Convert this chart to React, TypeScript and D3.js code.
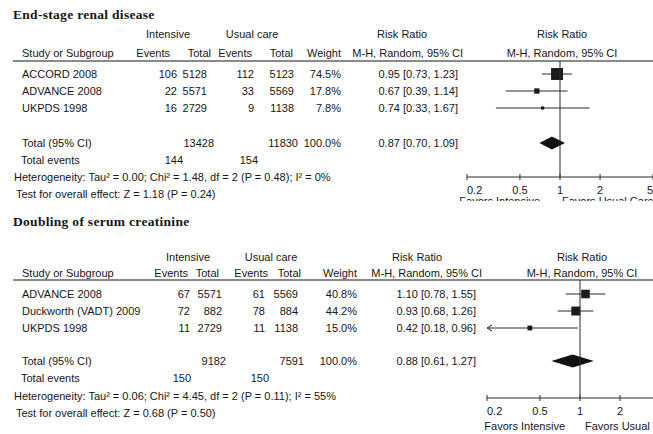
import React from "react";
import * as d3 from "d3";

const W = 653;
const H = 434;

// ---- End-stage renal disease ----
const esrdStudies = ["ACCORD 2008", "ADVANCE 2008", "UKPDS 1998"];
const esrdIntEvents = [106, 22, 16];
const esrdIntTotal = [5128, 5571, 2729];
const esrdUcEvents = [112, 33, 9];
const esrdUcTotal = [5123, 5569, 1138];
const esrdWeight = [74.5, 17.8, 7.8];
const esrdRR = [0.95, 0.67, 0.74];
const esrdLo = [0.73, 0.39, 0.33];
const esrdHi = [1.23, 1.14, 1.67];
const esrdPooled = [0.87, 0.7, 1.09];
const esrdTotals = [13428, 11830];
const esrdTotalEvents = [144, 154];
const esrdHet = "Heterogeneity: Tau\u00B2 = 0.00; Chi\u00B2 = 1.48, df = 2 (P = 0.48); I\u00B2 = 0%";
const esrdTest = "Test for overall effect: Z = 1.18 (P = 0.24)";

// ---- Doubling of serum creatinine ----
const dscStudies = ["ADVANCE 2008", "Duckworth (VADT) 2009", "UKPDS 1998"];
const dscIntEvents = [67, 72, 11];
const dscIntTotal = [5571, 882, 2729];
const dscUcEvents = [61, 78, 11];
const dscUcTotal = [5569, 884, 1138];
const dscWeight = [40.8, 44.2, 15.0];
const dscRR = [1.1, 0.93, 0.42];
const dscLo = [0.78, 0.68, 0.18];
const dscHi = [1.55, 1.26, 0.96];
const dscPooled = [0.88, 0.61, 1.27];
const dscTotals = [9182, 7591];
const dscTotalEvents = [150, 150];
const dscHet = "Heterogeneity: Tau\u00B2 = 0.06; Chi\u00B2 = 4.45, df = 2 (P = 0.11); I\u00B2 = 55%";
const dscTest = "Test for overall effect: Z = 0.68 (P = 0.50)";

const axisTicks = [0.2, 0.5, 1, 2, 5];
const axisTickLabels = ["0.2", "0.5", "1", "2", "5"];

const SANS = "'Liberation Sans', Arial, sans-serif";
const SERIF = "'Liberation Serif', 'Times New Roman', serif";
const INK = "#161616";

type Cols = {
  intEv: number;
  intTot: number;
  ucEv: number;
  ucTot: number;
  weight: number;
  rr: number;
  intHdr: number;
  ucHdr: number;
  hEv1: number;
  hTot1: number;
  hEv2: number;
  hTot2: number;
  rrHdr: number;
  rrSub: number;
  fHdr: number;
  tot1: number;
  tot2: number;
  ev1: number;
  ev2: number;
};

type PanelProps = {
  id: string;
  title: string;
  titleY: number;
  h1Y: number;
  h2Y: number;
  lineY: number;
  rowY: number[];
  totalY: number;
  eventsY: number;
  hetY: number;
  testY: number;
  axisY: number;
  tickY: number;
  favorsY: number;
  favorsGapL: number;
  favorsGapR: number;
  clipBottom?: number;
  range: [number, number];
  cols: Cols;
  studies: string[];
  intEvents: number[];
  intTotal: number[];
  ucEvents: number[];
  ucTotal: number[];
  weight: number[];
  rr: number[];
  lo: number[];
  hi: number[];
  pooled: number[];
  totals: number[];
  totalEvents: number[];
  het: string;
  test: string;
};

const fmtRR = (m: number, l: number, h: number) =>
  `${m.toFixed(2)} [${l.toFixed(2)}, ${h.toFixed(2)}]`;

function Panel(p: PanelProps) {
  // log-scaled risk-ratio axis running from 0.2 to 5
  const x = d3.scaleLog().domain([0.2, 5]).range(p.range);
  const c = p.cols;
  const fs = 11;
  const txt = (s: string | number, xx: number, yy: number, anchor = "start") => (
    <text x={xx} y={yy} textAnchor={anchor} fontFamily={SANS} fontSize={fs} fill={INK}>
      {s}
    </text>
  );
  // square area grows with study weight
  const boxSize = (w: number) => Math.max(3, 1.5 * Math.sqrt(w) - 1);
  const [pm, pl, ph] = p.pooled;
  const dh = 6.5;
  const cy = p.totalY - 4;
  const diamond = `M${x(pl)},${cy} L${x(pm)},${cy - dh} L${x(ph)},${cy} L${x(pm)},${cy + dh} Z`;
  const x1 = x(1);
  const lineCol = "#2a2a2a";
  const visibleTicks = axisTicks
    .map((t, i) => ({ t, label: axisTickLabels[i], i }))
    .filter((d) => x(d.t) <= W + 0.5);

  return (
    <g>
      <text
        x={13}
        y={p.titleY}
        fontFamily={SERIF}
        fontWeight="bold"
        fontSize={13.5}
        letterSpacing={0.3}
        fill={INK}
      >
        {p.title}
      </text>

      {/* column headers */}
      {txt("Intensive", c.intHdr, p.h1Y, "middle")}
      {txt("Usual care", c.ucHdr, p.h1Y, "middle")}
      {txt("Risk Ratio", c.rrHdr, p.h1Y, "middle")}
      {txt("Risk Ratio", c.fHdr, p.h1Y, "middle")}
      {txt("Study or Subgroup", 22, p.h2Y)}
      {txt("Events", c.hEv1, p.h2Y, "end")}
      {txt("Total", c.hTot1, p.h2Y, "end")}
      {txt("Events", c.hEv2, p.h2Y, "end")}
      {txt("Total", c.hTot2, p.h2Y, "end")}
      {txt("Weight", c.weight, p.h2Y, "end")}
      {txt("M-H, Random, 95% CI", c.rrSub, p.h2Y, "end")}
      {txt("M-H, Random, 95% CI", c.fHdr, p.h2Y, "middle")}
      <line x1={13} x2={W} y1={p.lineY} y2={p.lineY} stroke={INK} strokeWidth={1.2} />

      {/* study rows */}
      {p.studies.map((s, i) => {
        const y = p.rowY[i];
        const cyR = y - 4;
        const lo = Math.max(p.lo[i], 0.2);
        const bs = boxSize(p.weight[i]);
        const clipped = p.lo[i] < 0.2;
        return (
          <g key={s}>
            {txt(s, 22, y)}
            {txt(p.intEvents[i], c.intEv, y, "end")}
            {txt(p.intTotal[i], c.intTot, y, "end")}
            {txt(p.ucEvents[i], c.ucEv, y, "end")}
            {txt(p.ucTotal[i], c.ucTot, y, "end")}
            {txt(`${p.weight[i].toFixed(1)}%`, c.weight, y, "end")}
            {txt(fmtRR(p.rr[i], p.lo[i], p.hi[i]), c.rr, y, "end")}
            <line x1={x(lo)} x2={x(p.hi[i])} y1={cyR} y2={cyR} stroke={lineCol} strokeWidth={1} />
            {clipped && (
              <path
                d={`M${x(0.2) + 5},${cyR - 3} L${x(0.2)},${cyR} L${x(0.2) + 5},${cyR + 3}`}
                fill="none"
                stroke={lineCol}
                strokeWidth={1}
              />
            )}
            <rect x={x(p.rr[i]) - bs / 2} y={cyR - bs / 2} width={bs} height={bs} fill="#1a1a1a" />
          </g>
        );
      })}

      {/* pooled estimate */}
      {txt("Total (95% CI)", 22, p.totalY)}
      {txt(p.totals[0], c.tot1, p.totalY, "end")}
      {txt(p.totals[1], c.tot2, p.totalY, "end")}
      {txt("100.0%", c.weight, p.totalY, "end")}
      {txt(fmtRR(pm, pl, ph), c.rr, p.totalY, "end")}
      <path d={diamond} fill="#111" />
      {txt("Total events", 21, p.eventsY)}
      {txt(p.totalEvents[0], c.ev1, p.eventsY, "end")}
      {txt(p.totalEvents[1], c.ev2, p.eventsY, "end")}
      {txt(p.het, 14, p.hetY)}
      {txt(p.test, 16, p.testY)}

      {/* line of no effect and axis */}
      <line x1={x1} x2={x1} y1={p.lineY} y2={p.axisY} stroke={lineCol} strokeWidth={1} />
      <line x1={x(0.2)} x2={x(5)} y1={p.axisY} y2={p.axisY} stroke={lineCol} strokeWidth={1} />
      {visibleTicks.map(({ t, label, i }) => (
        <g key={t}>
          <line x1={x(t)} x2={x(t)} y1={p.axisY - 3} y2={p.axisY + 3} stroke={lineCol} strokeWidth={1} />
          {txt(label, x(t), p.tickY, i === 0 ? "start" : i === axisTicks.length - 1 ? "end" : "middle")}
        </g>
      ))}
      {p.clipBottom && (
        <clipPath id={`clip-${p.id}`}>
          <rect x={0} y={0} width={W} height={p.clipBottom} />
        </clipPath>
      )}
      <g clipPath={p.clipBottom ? `url(#clip-${p.id})` : undefined}>
        {txt("Favors Intensive", x1 - p.favorsGapL, p.favorsY, "end")}
        {txt("Favors Usual Care", x1 + p.favorsGapR, p.favorsY, "start")}
      </g>
    </g>
  );
}

export default function App() {
  return (
    <svg
      width={W}
      height={H}
      viewBox={`0 0 ${W} ${H}`}
      style={{ position: "absolute", left: 0, top: 0, background: "#fff" }}
    >
      <rect width={W} height={H} fill="#fff" />
      <Panel
        id="esrd"
        title="End-stage renal disease"
        titleY={19}
        h1Y={38}
        h2Y={57}
        lineY={61}
        rowY={[78, 95, 112]}
        totalY={147}
        eventsY={164}
        hetY={181}
        testY={198}
        axisY={177}
        tickY={194}
        favorsY={205}
        favorsGapL={20}
        favorsGapR={2}
        clipBottom={201}
        range={[467, 653]}
        cols={{
          intEv: 177,
          intTot: 207,
          ucEv: 254,
          ucTot: 294,
          weight: 341,
          rr: 458,
          intHdr: 168,
          ucHdr: 252,
          hEv1: 170,
          hTot1: 211,
          hEv2: 252,
          hTot2: 293,
          rrHdr: 402,
          rrSub: 463,
          fHdr: 562,
          tot1: 214,
          tot2: 298,
          ev1: 183,
          ev2: 258,
        }}
        studies={esrdStudies}
        intEvents={esrdIntEvents}
        intTotal={esrdIntTotal}
        ucEvents={esrdUcEvents}
        ucTotal={esrdUcTotal}
        weight={esrdWeight}
        rr={esrdRR}
        lo={esrdLo}
        hi={esrdHi}
        pooled={esrdPooled}
        totals={esrdTotals}
        totalEvents={esrdTotalEvents}
        het={esrdHet}
        test={esrdTest}
      />
      <Panel
        id="dsc"
        title="Doubling of serum creatinine"
        titleY={226}
        h1Y={261}
        h2Y={277}
        lineY={280}
        rowY={[298, 315, 332]}
        totalY={365}
        eventsY={382}
        hetY={400}
        testY={417}
        axisY={398}
        tickY={415}
        favorsY={430}
        favorsGapL={15}
        favorsGapR={5}
        range={[487, 673]}
        cols={{
          intEv: 190,
          intTot: 222,
          ucEv: 265,
          ucTot: 298,
          weight: 357,
          rr: 476,
          intHdr: 188,
          ucHdr: 271,
          hEv1: 188,
          hTot1: 219,
          hEv2: 268,
          hTot2: 301,
          rrHdr: 417,
          rrSub: 482,
          fHdr: 582,
          tot1: 226,
          tot2: 304,
          ev1: 191,
          ev2: 269,
        }}
        studies={dscStudies}
        intEvents={dscIntEvents}
        intTotal={dscIntTotal}
        ucEvents={dscUcEvents}
        ucTotal={dscUcTotal}
        weight={dscWeight}
        rr={dscRR}
        lo={dscLo}
        hi={dscHi}
        pooled={dscPooled}
        totals={dscTotals}
        totalEvents={dscTotalEvents}
        het={dscHet}
        test={dscTest}
      />
    </svg>
  );
}
